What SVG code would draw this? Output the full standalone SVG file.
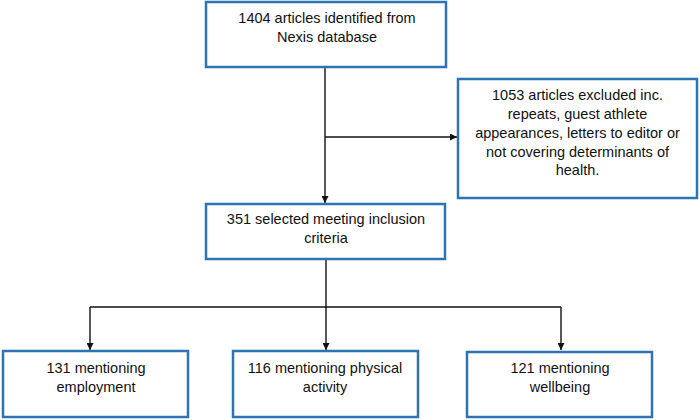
<svg xmlns="http://www.w3.org/2000/svg" width="700" height="420" viewBox="0 0 700 420">
<style>
.box{fill:#fff;stroke:#2E74B5;stroke-width:2.5}
.t{font-family:"Liberation Sans",Arial,sans-serif;font-size:14.5px;fill:#111;text-anchor:middle}
.c{stroke:#111;stroke-width:1.4;fill:none}
</style>
<defs>
<marker id="ah" viewBox="0 0 10 10" refX="10" refY="5" markerWidth="7" markerHeight="7" markerUnits="userSpaceOnUse" orient="auto">
<path d="M0,0 L10,5 L0,10 z" fill="#111"/>
</marker>
</defs>
<rect width="700" height="420" fill="#fff"/>
<g id="connectors">
<path class="c" d="M325,67 V203" marker-end="url(#ah)"/>
<path class="c" d="M325,137 H457" marker-end="url(#ah)"/>
<path class="c" d="M326,259 V307"/>
<path class="c" d="M90,307 H561"/>
<path class="c" d="M90,307 V350" marker-end="url(#ah)"/>
<path class="c" d="M326,307 V350" marker-end="url(#ah)"/>
<path class="c" d="M561,307 V350" marker-end="url(#ah)"/>
</g>
<g id="n1">
<rect class="box" x="206" y="2" width="240" height="65"/>
<text class="t" x="327" y="23">1404 articles identified from</text>
<text class="t" x="327" y="42">Nexis database</text>
</g>
<g id="n2">
<rect class="box" x="458" y="79" width="239" height="119"/>
<text class="t" x="577.5" y="100">1053 articles excluded inc.</text>
<text class="t" x="577.5" y="119">repeats, guest athlete</text>
<text class="t" x="577.5" y="138">appearances, letters to editor or</text>
<text class="t" x="577.5" y="157">not covering determinants of</text>
<text class="t" x="577.5" y="175">health.</text>
</g>
<g id="n3">
<rect class="box" x="206" y="204" width="239" height="55"/>
<text class="t" x="326" y="224">351 selected meeting inclusion</text>
<text class="t" x="326" y="243">criteria</text>
</g>
<g id="n4">
<rect class="box" x="3" y="351" width="185" height="66"/>
<text class="t" x="96" y="373">131 mentioning</text>
<text class="t" x="96" y="392">employment</text>
</g>
<g id="n5">
<rect class="box" x="233" y="351" width="185" height="66"/>
<text class="t" x="325" y="373">116 mentioning physical</text>
<text class="t" x="325" y="392">activity</text>
</g>
<g id="n6">
<rect class="box" x="467" y="352" width="185" height="65"/>
<text class="t" x="560" y="373">121 mentioning</text>
<text class="t" x="560" y="392">wellbeing</text>
</g>
</svg>
